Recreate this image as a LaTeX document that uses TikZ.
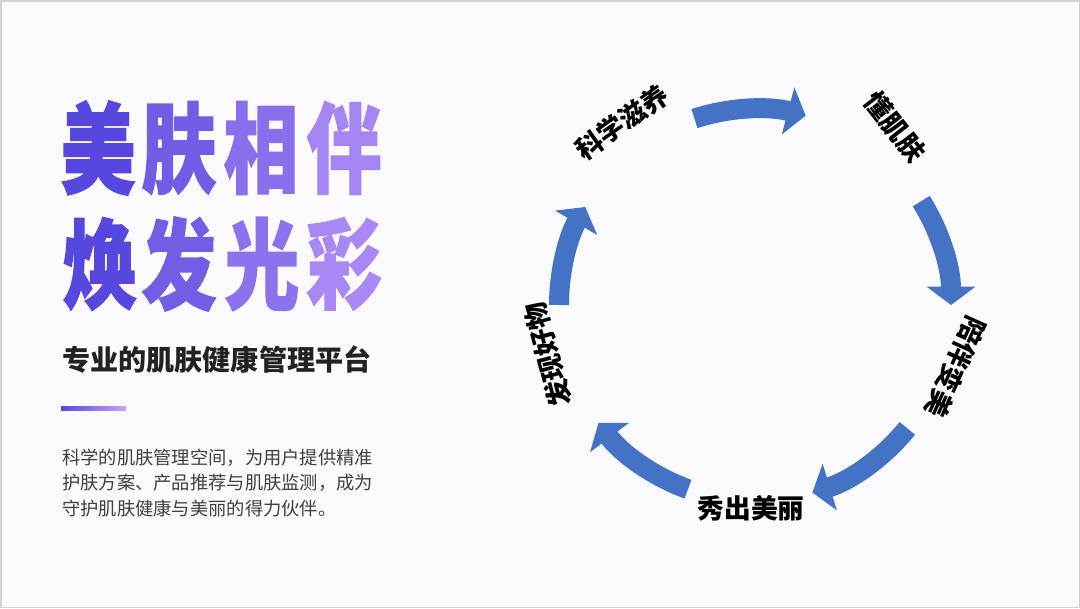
\documentclass[tikz,border=0pt]{standalone}
\usepackage{fontspec}
\setmainfont{Noto Sans CJK SC}
\newfontfamily\titlefont[FakeBold=1.5]{Noto Sans CJK SC}
\usetikzlibrary{arrows.meta}

\definecolor{arrowblue}{RGB}{68,114,196}
\definecolor{titlestart}{RGB}{86,72,222}
\definecolor{titleend}{RGB}{178,142,247}
\definecolor{pagetint}{RGB}{250,249,252}
\definecolor{subgray}{RGB}{34,34,34}
\definecolor{bodygray}{RGB}{64,64,64}

\begin{document}
\begin{tikzpicture}[
    cyclearrow/.style={draw=arrowblue, line width=14.2pt, -{Triangle[width=34pt, length=13pt]}},
    steplabel/.style={font=\bfseries\fontsize{19}{19}\selectfont, text=black, inner sep=0pt},
    titlechar/.style={font=\titlefont\bfseries\fontsize{70}{70}\selectfont, xscale=0.76, transform shape, inner sep=0pt}
  ]
  % \draw[help lines, gray!50, very thin] (0,0) grid (27,15.2);

  % page
  \fill[pagetint] (0,0) rectangle (27,15.2);
  \draw[gray!35, line width=1pt] (0.02,0.02) rectangle (26.98,15.18);

  % title, one colour per character
  \foreach \ch/\x/\p [count=\i] in {美/2.45/100, 肤/4.475/72, 相/6.525/44, 伴/8.6/14}
    \node[titlechar, text=titlestart!\p!titleend] (titleA\i) at (\x,11.5) {\ch};
  \foreach \ch/\x/\p [count=\i] in {焕/2.5/100, 发/4.475/70, 光/6.55/40, 彩/8.6/10}
    \node[titlechar, text=titlestart!\p!titleend] (titleB\i) at (\x,8.6) {\ch};

  \node[anchor=west, font=\bfseries\fontsize{20}{20}\selectfont, text=subgray, inner sep=0pt] (subtitle) at (1.55,6.2) {专业的肌肤健康管理平台};
  \shade[left color=titlestart, right color=titleend!80!white] (1.525,4.95) rectangle (3.15,5.03);

  \node[anchor=west, align=left, font=\fontsize{13}{18.4}\selectfont, text=bodygray, inner sep=0pt] (intro) at (1.55,3.125)
    {科学的肌肤管理空间，为用户提供精准\\护肤方案、产品推荐与肌肤监测，成为\\守护肌肤健康与美丽的得力伙伴。};

  % cycle
  \coordinate (hub) at (18.875,7.575);

  \node[steplabel, rotate=35] (nourish) at (15.55,12.15) {科学滋养};
  \node[steplabel, rotate=-52] (know) at (22.375,12.025) {懂肌肤};
  \node[steplabel, rotate=-114] (company) at (23.9,6.025) {陪伴变美};
  \node[steplabel] (shine) at (18.775,2.5) {秀出美丽};
  \node[steplabel, rotate=105] (discover) at (13.7,6.325) {发现好物};

  \draw[cyclearrow] ([shift={(108:4.9)}]hub) arc[start angle=108, end angle=75, radius=4.9];
  \draw[cyclearrow] ([shift={(32:4.9)}]hub) arc[start angle=32, end angle=0, radius=4.9];
  \draw[cyclearrow] ([shift={(-39:4.9)}]hub) arc[start angle=-39, end angle=-73, radius=4.9];
  \draw[cyclearrow] ([shift={(-110:4.9)}]hub) arc[start angle=-110, end angle=-143, radius=4.9];
  \draw[cyclearrow] ([shift={(180:4.9)}]hub) arc[start angle=180, end angle=150, radius=4.9];
\end{tikzpicture}
\end{document}
